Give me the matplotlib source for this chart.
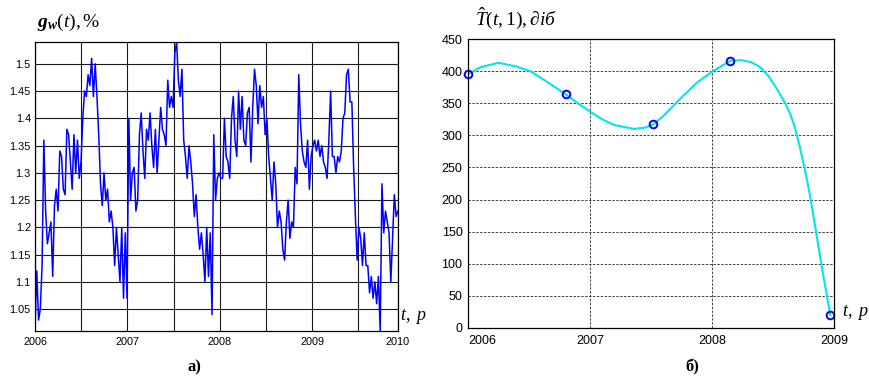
import numpy as np
import matplotlib
matplotlib.use('Agg')
import matplotlib.pyplot as plt

plt.rcParams['mathtext.fontset'] = 'custom'
plt.rcParams['mathtext.rm'] = 'Liberation Serif'
plt.rcParams['mathtext.it'] = 'Liberation Serif:italic'
plt.rcParams['mathtext.bf'] = 'Liberation Serif:bold'
plt.rcParams['mathtext.bfit'] = 'Liberation Serif:italic:bold'
plt.rcParams['font.family'] = ['Liberation Sans', 'DejaVu Sans']

# (a) weekly g_w(t), % from 2006 to end of 2009
gw = [1.02, 1.12, 1.03, 1.05, 1.13, 1.36, 1.23, 1.17, 1.19, 1.21, 1.11, 1.24, 1.27,
      1.23, 1.34, 1.33, 1.27, 1.26, 1.38, 1.37, 1.32, 1.27, 1.37, 1.30, 1.36, 1.29, 1.32,
      # 2006.5 - 2007
      1.40, 1.45, 1.44, 1.48, 1.46, 1.51, 1.44, 1.50, 1.44, 1.37, 1.28, 1.24, 1.30,
      1.25, 1.27, 1.21, 1.23, 1.20, 1.13, 1.20, 1.15, 1.10, 1.20, 1.07, 1.19, 1.07,
      # 2007 - 2007.5
      1.40, 1.25, 1.30, 1.31, 1.23, 1.25, 1.37, 1.41, 1.34, 1.29, 1.38, 1.36, 1.41,
      1.35, 1.31, 1.38, 1.30, 1.36, 1.42, 1.38, 1.37, 1.35, 1.47, 1.42, 1.44, 1.42,
      # 2007.5 - 2008
      1.52, 1.54, 1.47, 1.44, 1.49, 1.36, 1.33, 1.29, 1.35, 1.32, 1.28, 1.22, 1.26,
      1.20, 1.16, 1.19, 1.15, 1.10, 1.20, 1.11, 1.19, 1.04, 1.37, 1.25, 1.29, 1.30,
      # 2008 - 2008.5
      1.29, 1.29, 1.40, 1.33, 1.32, 1.29, 1.40, 1.44, 1.36, 1.33, 1.45, 1.38, 1.44,
      1.36, 1.35, 1.41, 1.42, 1.32, 1.42, 1.49, 1.46, 1.39, 1.46, 1.42, 1.44, 1.37,
      # 2008.5 - 2009
      1.40, 1.33, 1.29, 1.25, 1.32, 1.28, 1.20, 1.23, 1.21, 1.16, 1.14, 1.21, 1.25,
      1.18, 1.21, 1.20, 1.31, 1.28, 1.48, 1.39, 1.34, 1.32, 1.31, 1.36, 1.27, 1.33,
      # 2009 - 2009.5
      1.35, 1.36, 1.34, 1.36, 1.33, 1.35, 1.32, 1.31, 1.29, 1.36, 1.45, 1.33, 1.33,
      1.30, 1.33, 1.32, 1.34, 1.40, 1.41, 1.48, 1.49, 1.43, 1.43, 1.31, 1.22, 1.14,
      # 2009.5 - end
      1.20, 1.18, 1.13, 1.19, 1.13, 1.13, 1.08, 1.11, 1.07, 1.10, 1.06, 1.11, 1.01,
      1.28, 1.19, 1.23, 1.21, 1.19, 1.10, 1.18, 1.26, 1.22, 1.23]
t_gw = 2006 + np.arange(len(gw)) * 7 / 365.25
left_ticks = [2006, 2007, 2008, 2009, 2009.93]
left_tick_labels = ['2006', '2007', '2008', '2009', '2010']
left_yticks = [1.05, 1.1, 1.15, 1.2, 1.25, 1.3, 1.35, 1.4, 1.45, 1.5]

# (b) estimated T(t,1), days
t_pts = [2006.0, 2006.80, 2007.52, 2008.15, 2008.97]
T_pts = [395, 364, 317, 416, 20]
t_curve = [2006.0, 2006.1, 2006.25, 2006.4, 2006.52, 2006.65, 2006.8, 2006.9, 2007.0,
           2007.1, 2007.2, 2007.36, 2007.45, 2007.52, 2007.6, 2007.74, 2007.87, 2008.0,
           2008.15, 2008.24, 2008.32, 2008.39, 2008.46, 2008.53, 2008.6, 2008.64,
           2008.68, 2008.72, 2008.76, 2008.8, 2008.85, 2008.9, 2008.94, 2008.97]
T_curve = [395, 406, 413, 407, 399, 383, 364, 350, 337, 325, 316, 310, 312, 317, 330,
           357, 381, 399, 416, 417, 414, 407, 393, 373, 350, 334, 312, 282, 248, 210,
           153, 95, 52, 20]

fig = plt.figure(figsize=(8.69, 3.76), dpi=100)

# ---- left panel
ax1 = fig.add_axes([35/869, 1-331/376, 363/869, 289/376])
ax1.plot(t_gw, gw, color='#0000ff', lw=1.1)
ax1.set_xlim(2006, 2009.93)
ax1.set_ylim(1.01, 1.54)
ax1.set_xticks(left_ticks)
ax1.set_xticklabels(left_tick_labels)
ax1.set_xticks([2006.5, 2007.5, 2008.5, 2009.5], minor=True)
ax1.set_yticks(left_yticks)
ax1.set_yticklabels(['%g' % v for v in left_yticks])
ax1.grid(True, which='both', color='0.1', lw=0.8, ls='-')
ax1.tick_params(which='both', direction='in', length=0, labelsize=7.8, pad=3)
ax1.tick_params(axis='x', pad=4)
for s in ax1.spines.values():
    s.set_linewidth(0.9)
fig.text(37/869, 1-33/376, r'$\mathbfit{g}_{\mathbfit{w}}(t),$%', fontsize=14,
         family='Liberation Serif', ha='left', va='bottom')
fig.text(400/869, 1-316/376, r'$t,\ p$', fontsize=13, ha='left', va='center')
fig.text(194/869, 1-367/376, 'a)', fontsize=12, fontweight='bold',
         family='Liberation Serif', ha='center', va='center')

# ---- right panel
ax2 = fig.add_axes([468/869, 1-328/376, 366/869, 289/376])
ax2.plot(t_curve, T_curve, color='#00e5ee', lw=1.5)
ax2.plot(t_pts, T_pts, 'o', mfc='none', mec='#0000ff', mew=1.4, ms=5.5, clip_on=False)
ax2.set_xlim(2006, 2009)
ax2.set_ylim(0, 450)
ax2.set_xticks([2006, 2007, 2008, 2009])
ax2.set_xticklabels(['2006', '2007', '2008', '2009'])
ax2.get_xticklabels()[0].set_ha('left')
ax2.set_yticks(np.arange(0, 451, 50))
ax2.grid(True, color='0.25', lw=0.7, ls=(0, (2.5, 1.5)))
ax2.tick_params(direction='in', length=0, labelsize=9, pad=4)
ax2.tick_params(axis='x', pad=5)
for s in ax2.spines.values():
    s.set_linewidth(0.9)
fig.text(475/869, 1-31/376, r'$\hat{T}(t,1),\partial i$б', fontsize=14,
         family=['Liberation Serif'], style='italic', ha='left', va='bottom')
fig.text(842/869, 1-312/376, r'$t,\ p$', fontsize=13, ha='left', va='center')
fig.text(692/869, 1-367/376, 'б)', fontsize=12, fontweight='bold',
         family='Liberation Serif', ha='center', va='center')

fig.savefig('out.png', dpi=100)
